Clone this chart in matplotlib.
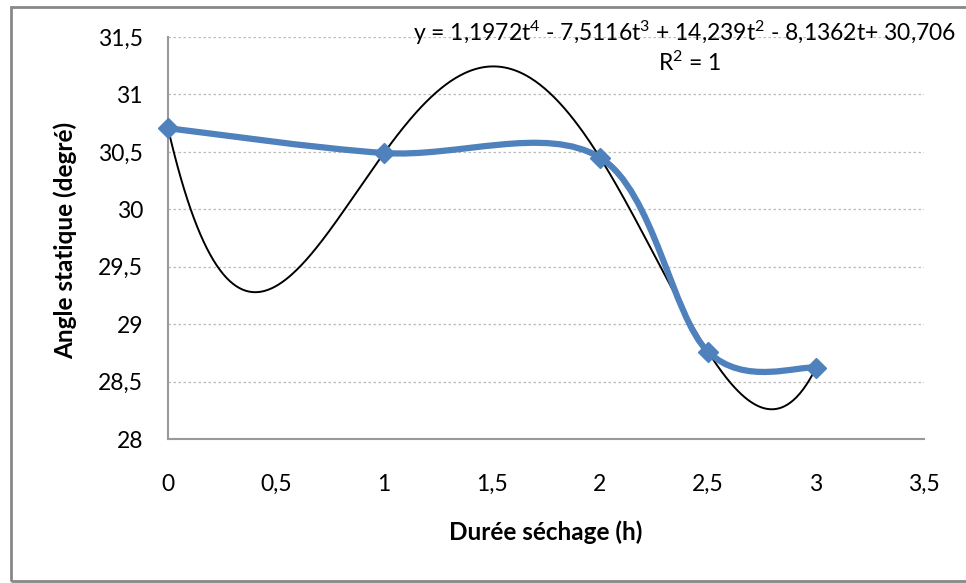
import numpy as np
import matplotlib
matplotlib.use("Agg")
import matplotlib.pyplot as plt
from matplotlib.path import Path
from matplotlib.patches import PathPatch, Rectangle
from matplotlib.ticker import FuncFormatter, MultipleLocator

# Data
duree = [0, 1, 2, 2.5, 3]
angle = [30.706, 30.49, 30.45, 28.76, 28.62]
equation = "y = 1,1972t$^{4}$ - 7,5116t$^{3}$ + 14,239t$^{2}$ - 8,1362t+ 30,706"
r2_text = "R$^{2}$ = 1"
xlabel = "Durée séchage (h)"
ylabel = "Angle statique (degré)"

W, H, DPI = 966, 583, 100
fig = plt.figure(figsize=(W / DPI, H / DPI), dpi=DPI)
plt.rcParams['font.family'] = ['Lato', 'DejaVu Sans']
plt.rcParams['mathtext.fontset'] = 'custom'
plt.rcParams['mathtext.rm'] = 'Lato'
plt.rcParams['mathtext.it'] = 'Lato'
plt.rcParams['mathtext.default'] = 'regular'

FS = 16.5
left, right, top, bottom = 168, 924, 37, 439
ax = fig.add_axes([left / W, 1 - bottom / H, (right - left) / W, (bottom - top) / H])
ax.set_xlim(0, 3.5)
ax.set_ylim(28, 31.5)
ax.xaxis.set_major_locator(MultipleLocator(0.5))
ax.yaxis.set_major_locator(MultipleLocator(0.5))
fmt = FuncFormatter(lambda v, p: (f"{v:g}").replace(".", ","))
ax.xaxis.set_major_formatter(fmt)
ax.yaxis.set_major_formatter(fmt)
ax.tick_params(axis='both', length=0, labelsize=FS, colors='black')
ax.tick_params(axis='x', pad=25)
ax.tick_params(axis='y', pad=18)
for s in ['top', 'right']:
    ax.spines[s].set_visible(False)
for s in ['left', 'bottom']:
    ax.spines[s].set_color('#999999')
    ax.spines[s].set_linewidth(1.5)
ax.yaxis.grid(True, linestyle=(0, (2, 2)), color='#bbbbbb', linewidth=0.9)
ax.set_axisbelow(True)

# Trendline: 4th-degree polynomial fit of the data
coef = np.polyfit(duree, angle, 4)
tt = np.linspace(0, 3, 400)
ax.plot(tt, np.polyval(coef, tt), color='black', lw=1.4, zorder=3)

# Excel-like smoothed line (Catmull-Rom Bezier in display-proportional space)
sx = (right - left) / 3.5
sy = (bottom - top) / 3.5
P = np.column_stack([np.array(duree) * sx, (np.array(angle) - 28) * sy])
verts = [tuple(P[0])]
codes = [Path.MOVETO]
n = len(P)
for i in range(n - 1):
    p0 = P[i - 1] if i > 0 else P[i]
    p1, p2 = P[i], P[i + 1]
    p3 = P[i + 2] if i + 2 < n else P[i + 1]
    c1 = p1 + (p2 - p0) / 6
    c2 = p2 - (p3 - p1) / 6
    verts += [tuple(c1), tuple(c2), tuple(p2)]
    codes += [Path.CURVE4] * 3
verts = [(vx / sx, vy / sy + 28) for vx, vy in verts]
ax.add_patch(PathPatch(Path(verts, codes), facecolor='none', edgecolor='#4F81BD',
                       lw=4.5, capstyle='round', joinstyle='round', zorder=4))
ax.plot(duree, angle, linestyle='none', marker='D', markersize=10,
        color='#4F81BD', zorder=5, clip_on=False)

fig.text(685 / W, 1 - 33 / H, equation, ha='center', va='center', fontsize=FS)
fig.text(690 / W, 1 - 63 / H, r2_text, ha='center', va='center', fontsize=FS)

fig.text(546 / W, 1 - 532 / H, xlabel, ha='center', va='center', fontsize=17.5, fontweight='bold')
fig.text(65 / W, 1 - 240 / H, ylabel, ha='center', va='center', fontsize=17.5,
         fontweight='bold', rotation=90)

fig.patches.append(Rectangle((11 / W, 1 - 581 / H), (W + 20) / W, (581 - 7) / H,
                             transform=fig.transFigure, facecolor='none',
                             edgecolor='#888888', lw=2))

fig.savefig("out.png", dpi=DPI, facecolor='white')
